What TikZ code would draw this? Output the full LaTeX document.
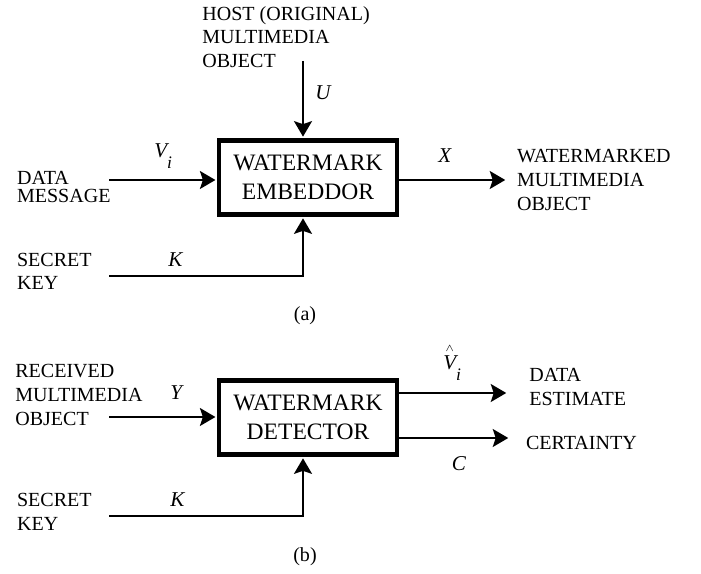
\documentclass[tikz,border=0pt]{standalone}
\usepackage{fontspec}
\setmainfont{Liberation Serif}
\usepackage{amsmath}
\usetikzlibrary{arrows.meta,positioning,calc}

\newcommand{\lowi}{\raisebox{-0.5em}{\fontsize{10}{10}\selectfont\textit{i}}}

\begin{document}
\begin{tikzpicture}[
    x=0.02cm, y=-0.02cm,
    font=\fontsize{11.4}{13.4}\selectfont,
    % Styles
    block/.style={draw, line width=2.4pt, minimum width=3.55cm, minimum height=1.48cm,
        inner sep=0, align=center, font=\fontsize{13.4}{16.5}\selectfont},
    lbl/.style={align=left, anchor=west, inner sep=0},
    sig/.style={anchor=base west, inner sep=0, font=\fontsize{12}{14}\selectfont\itshape},
    arrow/.style={-{Stealth[length=0.31cm, width=0.36cm, inset=0.06cm]}, line width=1.1pt, shorten >=1pt},
]
    \useasboundingbox (0,0) rectangle (701,574);

    % (a) Embedder
    \node[block] (emb) at (308,177.5) {WATERMARK\\EMBEDDOR};

    \node[lbl] (host) at (202,36.8) {HOST (ORIGINAL)\\MULTIMEDIA\\OBJECT};
    \node[lbl] (msg) at (16.7,187) {DATA\\[-0.1cm]MESSAGE};
    \node[lbl] (keya) at (16.7,271.3) {SECRET\\KEY};
    \node[lbl] (wmo) at (516.7,180) {WATERMARKED\\MULTIMEDIA\\OBJECT};
    \node (capa) at (305,315.7) {(a)};

    \coordinate (u0) at (303,61);
    \coordinate (v0) at (109.3,180);
    \coordinate (k0) at (109.3,276);
    \coordinate (x1) at (507,180);

    \draw[arrow] (u0) -- (u0 |- emb.north);
    \draw[arrow] (v0) -- (v0 -| emb.west);
    \draw[arrow] (k0) -| (u0 |- emb.south);
    \draw[arrow] (x1 -| emb.east) -- (x1);

    \node[sig] (ulbl) at (315,99.5) {U};
    \node[sig] (vlbl) at (154,158) {V\lowi};
    \node[sig] (klbla) at (168,266.5) {K};
    \node[sig] (xlbl) at (438,163) {X};

    % (b) Detector
    \node[block] (det) at (308,417.5) {WATERMARK\\DETECTOR};

    \node[lbl] (recv) at (15,395) {RECEIVED\\MULTIMEDIA\\OBJECT};
    \node[lbl] (keyb) at (16.7,511.7) {SECRET\\KEY};
    \node[lbl] (est) at (529,387) {DATA\\ESTIMATE};
    \node[lbl] (cert) at (525.7,443.3) {CERTAINTY};
    \node (capb) at (305,556.7) {(b)};

    \coordinate (y0) at (109.3,417);
    \coordinate (k1) at (109.3,516);
    \coordinate (vh) at (508,393);
    \coordinate (c1) at (510,438);

    \draw[arrow] (y0) -- (y0 -| det.west);
    \draw[arrow] (k1) -| (u0 |- det.south);
    \draw[arrow] (vh -| det.east) -- (vh);
    \draw[arrow] (c1 -| det.east) -- (c1);

    \node[sig] (ylbl) at (170,400) {Y};
    \node[sig] (klblb) at (170,506.5) {K};
    \node[sig] (vhlbl) at (443,370) {$\overset{\scriptscriptstyle\wedge}{\mbox{\textit{V}}}$\lowi};
    \node[sig] (clbl) at (451.5,471) {C};

\end{tikzpicture}
\end{document}
